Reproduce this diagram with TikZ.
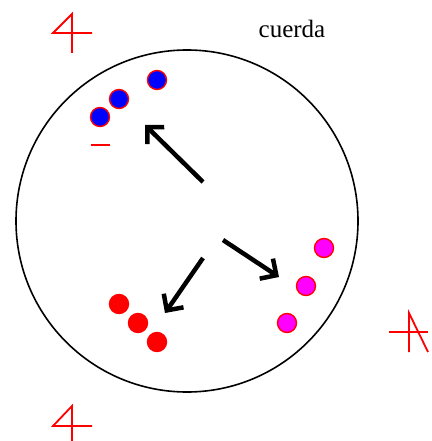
\documentclass[tikz,border=0pt]{standalone}
\usepackage{fontspec}
\setmainfont{Liberation Serif}
\usetikzlibrary{arrows.meta}
\definecolor{chargemag}{RGB}{255,0,255}
\definecolor{chargeblue}{RGB}{0,0,255}
\definecolor{chargered}{RGB}{255,0,0}
\begin{document}
\begin{tikzpicture}[x=1pt,y=-1pt,
  dot/.style={circle,minimum size=19pt,inner sep=0pt,draw=chargered,line width=1.4pt},
  mark4/.style={chargered,line width=1.8pt},
  bigarrow/.style={line width=4.5pt,-{Straight Barb[length=12pt,width=24pt,line width=4.5pt]}}]
\useasboundingbox (0,0) rectangle (431,441);
\fill[white] (0,0) rectangle (431,441);
\node[circle,draw,line width=1.6pt,minimum size=342pt,inner sep=0pt] (ring) at (187,221) {};
\node[anchor=base,font=\fontsize{25}{25}\selectfont] (lbl) at (292,38) {cuerda};
% blue charges
\node[dot,fill=chargeblue] (b1) at (157,80) {};
\node[dot,fill=chargeblue] (b2) at (119,99) {};
\node[dot,fill=chargeblue] (b3) at (100,117) {};
\coordinate (m1) at (91,145);
\coordinate (m2) at (110,145);
\draw[mark4] (m1) -- (m2);
% magenta charges
\node[dot,fill=chargemag] (p1) at (324,248) {};
\node[dot,fill=chargemag] (p2) at (306,286) {};
\node[dot,fill=chargemag] (p3) at (287,323) {};
% red charges
\node[dot,fill=chargered] (r1) at (119,304) {};
\node[dot,fill=chargered] (r2) at (138,323) {};
\node[dot,fill=chargered] (r3) at (157,342) {};
% arrows
\coordinate (a1s) at (203,182);
\coordinate (a1e) at (145,125);
\coordinate (a2s) at (203,258);
\coordinate (a2e) at (165,313);
\coordinate (a3s) at (223,240);
\coordinate (a3e) at (279,277);
\draw[bigarrow] (a1s) -- (a1e);
\draw[bigarrow] (a2s) -- (a2e);
\draw[bigarrow] (a3s) -- (a3e);
% "4" marks
\draw[mark4] (72,53) -- (72,14) -- (53,33) -- (92,33);
\draw[mark4] (72,441) -- (72,406) -- (53,426) -- (92,426);
\draw[mark4] (409,352) -- (409,313) -- (428,352);
\draw[mark4] (389,332) -- (428,332);
\end{tikzpicture}
\end{document}
